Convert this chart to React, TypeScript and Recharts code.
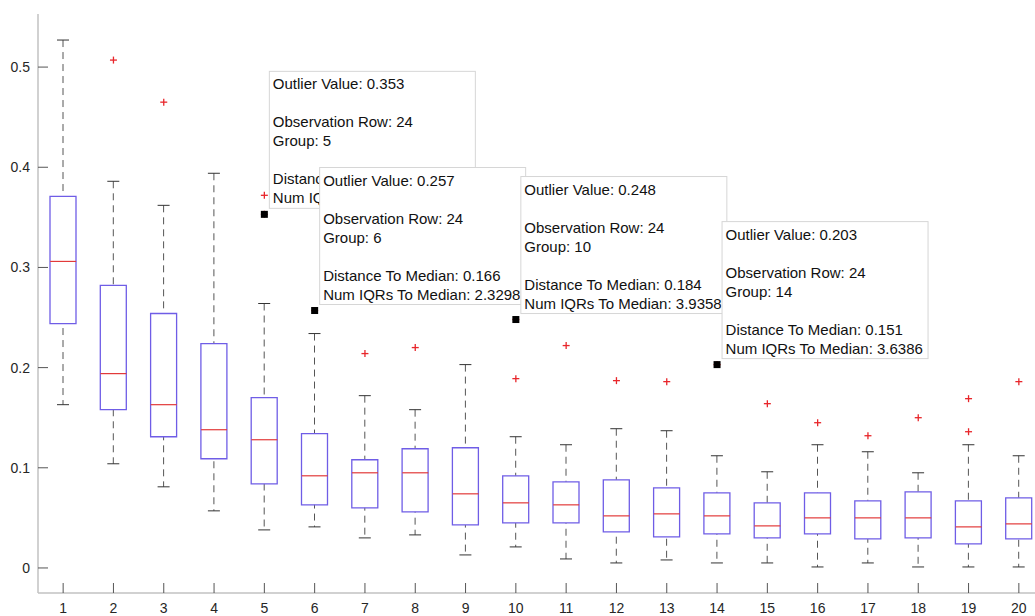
import React from "react";
import { Bar, ComposedChart, Scatter, XAxis, YAxis } from "recharts";

const groups = ["1", "2", "3", "4", "5", "6", "7", "8", "9", "10", "11", "12", "13", "14", "15", "16", "17", "18", "19", "20"];
const whiskerLow = [0.163, 0.104, 0.081, 0.057, 0.038, 0.041, 0.030, 0.033, 0.013, 0.021, 0.009, 0.005, 0.008, 0.005, 0.005, 0.001, 0.005, 0.001, 0.001, 0.001];
const q1 = [0.244, 0.158, 0.131, 0.109, 0.084, 0.063, 0.060, 0.056, 0.043, 0.045, 0.045, 0.036, 0.031, 0.034, 0.030, 0.034, 0.029, 0.030, 0.024, 0.029];
const medians = [0.306, 0.194, 0.163, 0.138, 0.128, 0.092, 0.095, 0.095, 0.074, 0.065, 0.063, 0.052, 0.054, 0.052, 0.042, 0.050, 0.050, 0.050, 0.041, 0.044];
const q3 = [0.371, 0.282, 0.254, 0.224, 0.170, 0.134, 0.108, 0.119, 0.120, 0.092, 0.086, 0.088, 0.080, 0.075, 0.065, 0.075, 0.067, 0.076, 0.067, 0.070];
const whiskerHigh = [0.527, 0.386, 0.362, 0.394, 0.264, 0.234, 0.172, 0.158, 0.203, 0.131, 0.123, 0.139, 0.137, 0.112, 0.096, 0.123, 0.116, 0.095, 0.123, 0.112];
const outlierA = [null, 0.507, 0.465, null, 0.372, 0.257, 0.214, 0.220, null, 0.248, 0.222, 0.187, 0.186, 0.203, 0.164, 0.145, 0.132, 0.150, 0.169, 0.186];
const outlierB = [null, null, null, null, 0.353, null, null, null, null, 0.189, null, null, null, null, null, null, null, null, 0.136, null];

// data tips (selected outliers)
const tipGroups = ["5", "6", "10", "14"];
const tipValues = [0.353, 0.257, 0.248, 0.203];
const tipRows = [24, 24, 24, 24];
const tipDistances = [0.225, 0.166, 0.184, 0.151];
const tipIqrs = ["2.6163", "2.3298", "3.9358", "3.6386"];

const yTicks = [0, 0.1, 0.2, 0.3, 0.4, 0.5];
const yDomain = [-0.025, 0.553];

const data = groups.map((g, i) => {
  const t = tipGroups.indexOf(g);
  return {
    g,
    whisker: [whiskerLow[i], whiskerHigh[i]],
    box: [q1[i], q3[i]],
    median: medians[i],
    oa: outlierA[i],
    ob: outlierB[i],
    tip: t >= 0 ? tipValues[t] : null,
    tipRow: t >= 0 ? tipRows[t] : null,
    tipDist: t >= 0 ? tipDistances[t] : null,
    tipIqr: t >= 0 ? tipIqrs[t] : null,
  };
});

const FONT = "'Liberation Sans', Arial, Helvetica, sans-serif";
const axisLine = { stroke: "#c2c2c2", strokeWidth: 1.5 };
const tickLine = { stroke: "#555" };
const tickText = { fontFamily: FONT, fontSize: 14, fill: "#262626" };

const WhiskerShape = (props: any) => {
  const { x, y, width, height } = props;
  const cx = x + width / 2;
  return (
    <g>
      <line x1={cx} x2={cx} y1={y} y2={y + height} stroke="#555" strokeDasharray="7 5" />
      <line x1={cx - 6} x2={cx + 6} y1={y} y2={y} stroke="#333" />
      <line x1={cx - 6} x2={cx + 6} y1={y + height} y2={y + height} stroke="#333" />
    </g>
  );
};

const MedianShape = (props: any) => {
  const { cx, cy } = props;
  return <line x1={cx - 13} x2={cx + 13} y1={cy} y2={cy} stroke="#e23a3a" strokeWidth={1.2} />;
};

const plusShape = (key: string) => (props: any) => {
  const { cx, cy, payload } = props;
  if (payload == null || payload[key] == null || cx == null || cy == null) return <g />;
  return (
    <g stroke="#e8262b" strokeWidth={1.3}>
      <line x1={cx - 3.5} x2={cx + 3.5} y1={cy} y2={cy} />
      <line x1={cx} x2={cx} y1={cy - 3.5} y2={cy + 3.5} />
    </g>
  );
};

const TipShape = (props: any) => {
  const { cx, cy, payload } = props;
  if (payload == null || payload.tip == null || cx == null || cy == null) return <g />;
  const bx = cx + 5;
  const by = cy - 6 - 137;
  const tx = bx + 3.5;
  return (
    <g>
      <rect x={cx - 3.5} y={cy - 3.5} width={7} height={7} fill="#000" />
      <rect x={bx} y={by} width={206} height={137} fill="#fff" stroke="#d6d6d6" />
      <g fontFamily={FONT} fontSize={15} fill="#111">
        <text x={tx} y={by + 18}>{`Outlier Value: ${payload.tip.toFixed(3)}`}</text>
        <text x={tx} y={by + 56}>{`Observation Row: ${payload.tipRow}`}</text>
        <text x={tx} y={by + 75}>{`Group: ${payload.g}`}</text>
        <text x={tx} y={by + 113}>{`Distance To Median: ${payload.tipDist.toFixed(3)}`}</text>
        <text x={tx} y={by + 132}>{`Num IQRs To Median: ${payload.tipIqr}`}</text>
      </g>
    </g>
  );
};

export default function App() {
  return (
    <div style={{ position: "absolute", left: 0, top: 0, width: 1035, height: 616, overflow: "hidden", background: "#fff" }}>
      <ComposedChart
        width={1050}
        height={616}
        data={data}
        margin={{ top: 14, right: 6, bottom: 0, left: 0 }}
        barGap={-26}
      >
        <XAxis
          dataKey="g"
          height={23}
          interval={0}
          tickSize={-10}
          tickMargin={20}
          axisLine={axisLine}
          tickLine={tickLine}
          tick={tickText}
        />
        <XAxis
          xAxisId="top"
          dataKey="g"
          orientation="top"
          height={0}
          interval={0}
          tickSize={-10}
          tick={false}
          axisLine={axisLine}
          tickLine={tickLine}
        />
        <YAxis
          type="number"
          domain={yDomain}
          ticks={yTicks}
          width={38}
          tickSize={-10}
          tickMargin={18}
          allowDataOverflow
          axisLine={axisLine}
          tickLine={tickLine}
          tick={tickText}
        />
        <YAxis
          yAxisId="right"
          orientation="right"
          type="number"
          domain={yDomain}
          ticks={yTicks}
          width={0}
          tickSize={-10}
          tick={false}
          allowDataOverflow
          axisLine={axisLine}
          tickLine={tickLine}
        />
        <Bar dataKey="whisker" barSize={26} shape={<WhiskerShape />} isAnimationActive={false} />
        <Bar dataKey="box" barSize={26} fill="#fff" stroke="#6f5de6" strokeWidth={1.3} isAnimationActive={false} />
        <Scatter dataKey="median" shape={<MedianShape />} isAnimationActive={false} />
        <Scatter dataKey="oa" shape={plusShape("oa")} isAnimationActive={false} />
        <Scatter dataKey="ob" shape={plusShape("ob")} isAnimationActive={false} />
        <Scatter dataKey="tip" shape={<TipShape />} isAnimationActive={false} />
      </ComposedChart>
    </div>
  );
}
